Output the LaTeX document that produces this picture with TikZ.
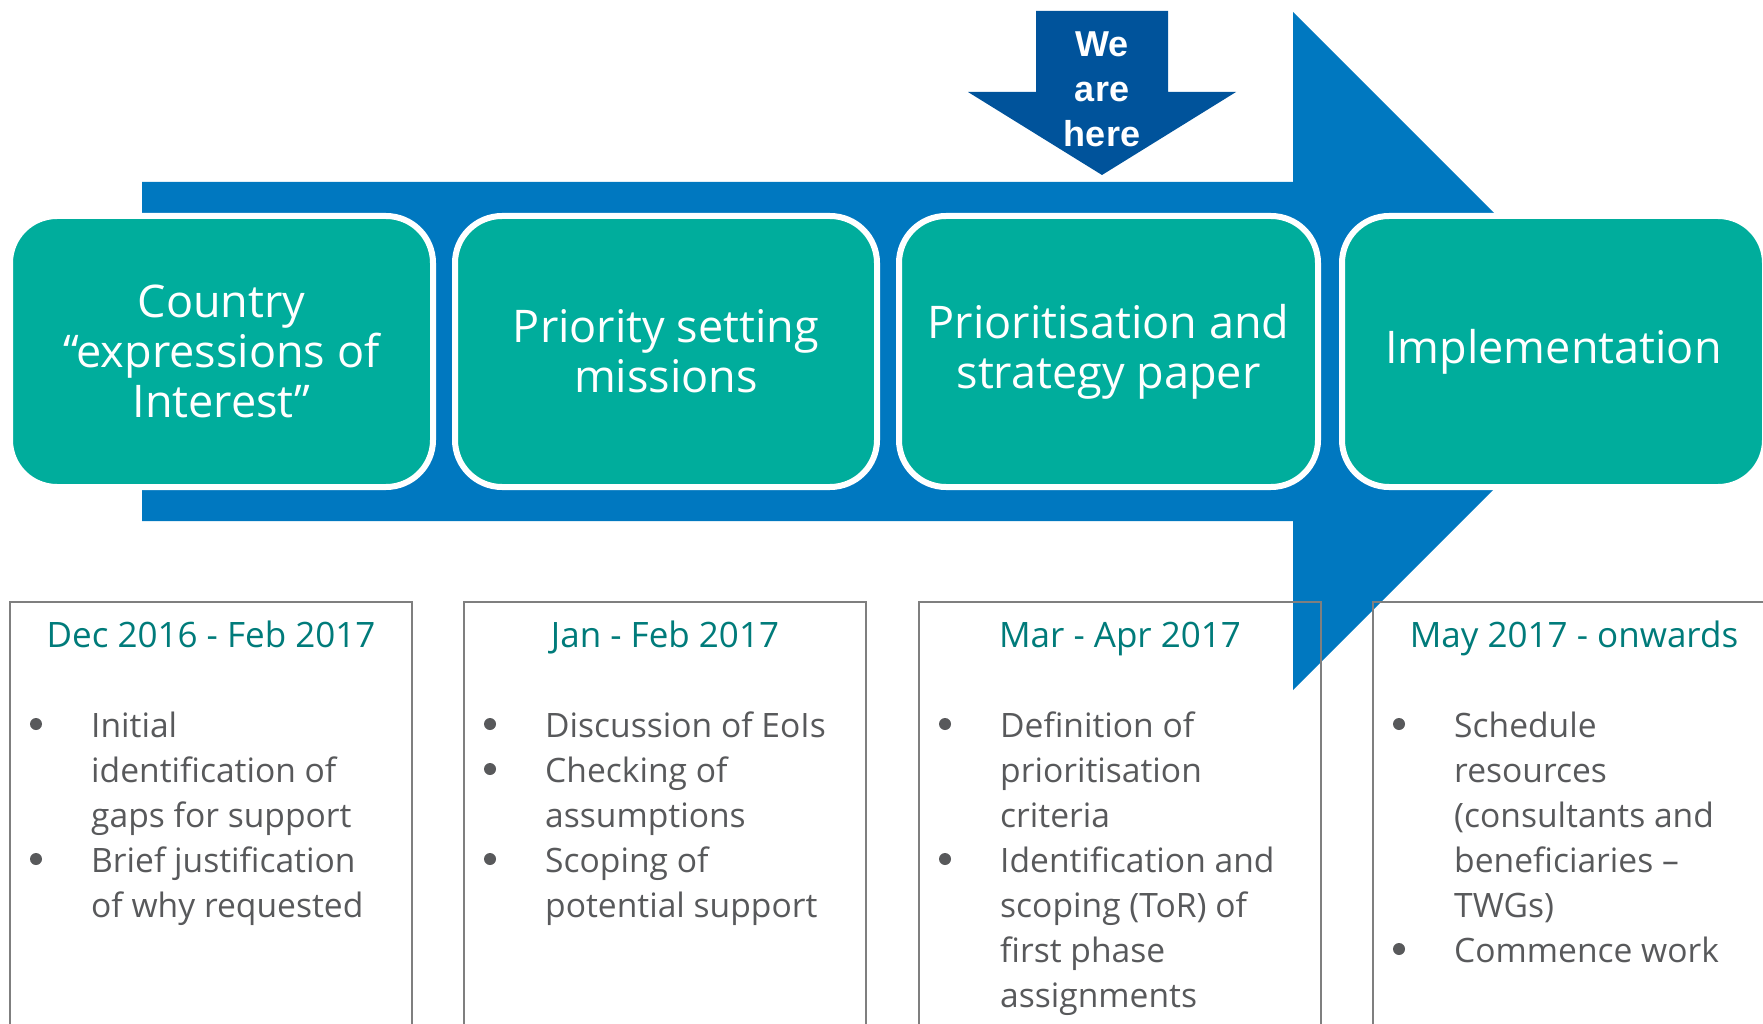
\documentclass[tikz,border=0pt]{standalone}
\usepackage{fontspec}
\setmainfont{Open Sans}
\newfontfamily\herefont{Liberation Sans}
\definecolor{stageteal}{HTML}{00AD9C}
\definecolor{arrowblue}{HTML}{0078C0}
\definecolor{hereblue}{HTML}{00539B}
\definecolor{datecol}{HTML}{007B7A}
\definecolor{bodygray}{HTML}{58595B}
\definecolor{boxgray}{HTML}{7F7F7F}
\tikzset{
  stage/.style={draw=white, line width=6pt, fill=stageteal, rounded corners=47pt,
    text=white, align=center, inner sep=0pt, minimum height=271pt,
    font=\fontsize{45}{50}\selectfont},
  datetext/.style={text=datecol, anchor=base, inner sep=0pt, font=\fontsize{35}{42}\selectfont},
  bodytext/.style={text=bodygray, anchor=base west, inner sep=0pt, font=\fontsize{33.6}{45}\selectfont},
  boxline/.style={draw=boxgray, line width=2pt},
  dot/.style={fill=bodygray}
}
\begin{document}
\begin{tikzpicture}[x=1pt,y=-1pt]
\useasboundingbox (0,0) rectangle (1763,1024);
% big process arrow
\fill[arrowblue] (142,182) -- (1293,182) -- (1293,12) -- (1632,351) -- (1293,690)
  -- (1293,521) -- (142,521) -- cycle;
% stages
\node[stage, minimum width=423pt] (s1) at (221.5,351.5) {Country\\“expressions of\\Interest”};
\node[stage, minimum width=422pt] (s2) at (666,351.5) {Priority setting\\missions};
\node[stage, minimum width=419pt] (s3) at (1108.5,351.5) {Prioritisation and\\strategy paper};
\node[stage, minimum width=423pt] (s4) at (1553.5,351.5) {Implementation};
% we are here arrow
\fill[hereblue] (1036,11) -- (1168,11) -- (1168,92) -- (1236,92) -- (1102,175)
  -- (968,92) -- (1036,92) -- cycle;
\node[text=white, align=center, inner sep=0pt, anchor=base,
  font=\herefont\bfseries\fontsize{36}{45}\selectfont] (here) at (1102,147) {We\\are\\here};
% detail boxes
\draw[boxline] (10,1030) -- (10,602) -- (412,602) -- (412,1030);
\draw[boxline] (464,1030) -- (464,602) -- (866,602) -- (866,1030);
\draw[boxline] (919,1030) -- (919,602) -- (1321,602) -- (1321,1030);
\draw[boxline] (1373,1030) -- (1373,602) -- (1775,602) -- (1775,1030);
% dates
\node[datetext] (d1) at (211,647) {Dec 2016 - Feb 2017};
\node[datetext] (d2) at (665,647) {Jan - Feb 2017};
\node[datetext] (d3) at (1120,647) {Mar - Apr 2017};
\node[datetext] (d4) at (1574,647) {May 2017 - onwards};
% bullet texts
\foreach \txt/\b [count=\i from 0] in {{Initial}/1, {identification of}/0, {gaps for support}/0, {Brief justification}/1, {of why requested}/0}{
  \node[bodytext] (ta\i) at (91,737+45*\i) {\txt};
  \ifnum\b=1 \fill[dot] (36,724+45*\i) circle[radius=6pt]; \fi
}
\foreach \txt/\b [count=\i from 0] in {{Discussion of EoIs}/1, {Checking of}/1, {assumptions}/0, {Scoping of}/1, {potential support}/0}{
  \node[bodytext] (tb\i) at (545,737+45*\i) {\txt};
  \ifnum\b=1 \fill[dot] (490,724+45*\i) circle[radius=6pt]; \fi
}
\foreach \txt/\b [count=\i from 0] in {{Definition of}/1, {prioritisation}/0, {criteria}/0, {Identification and}/1, {scoping (ToR) of}/0, {first phase}/0, {assignments}/0}{
  \node[bodytext] (tc\i) at (1000,737+45*\i) {\txt};
  \ifnum\b=1 \fill[dot] (945,724+45*\i) circle[radius=6pt]; \fi
}
\foreach \txt/\b [count=\i from 0] in {{Schedule}/1, {resources}/0, {(consultants and}/0, {beneficiaries –}/0, {TWGs)}/0, {Commence work}/1}{
  \node[bodytext] (td\i) at (1454,737+45*\i) {\txt};
  \ifnum\b=1 \fill[dot] (1399,724+45*\i) circle[radius=6pt]; \fi
}
\end{tikzpicture}
\end{document}
